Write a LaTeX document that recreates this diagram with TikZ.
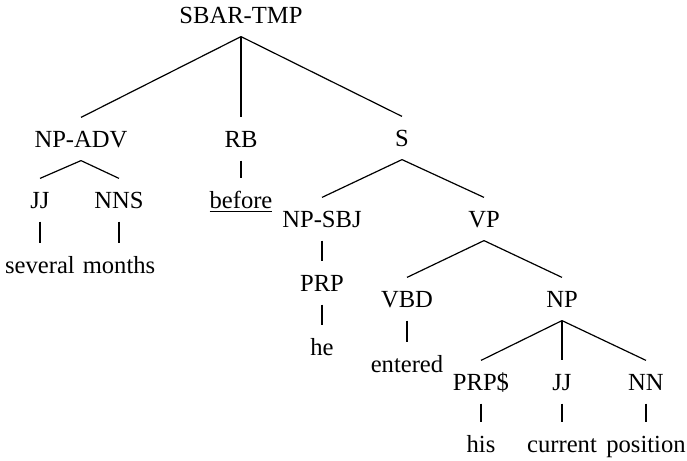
\documentclass[tikz,border=0pt]{standalone}
\usepackage{fontspec}
\setmainfont{Liberation Serif}
\tikzset{
  tag/.style={inner xsep=0pt, inner ysep=6.5pt, text height=8pt, text depth=0pt,
    anchor=base, font=\fontsize{12.3}{14}\selectfont},
}
\begin{document}
\begin{tikzpicture}[x=0.5pt, y=-0.5pt, line width=0.6pt]
    \useasboundingbox (0,0) rectangle (687,461);
    % phrase labels
    \node[tag] (top) at (241,23) {SBAR-TMP};
    \node[tag] (npadv) at (81,147) {NP-ADV};
    \node[tag] (rb) at (241,147) {RB};
    \node[tag] (s) at (402,146) {S};
    \node[tag] (jja) at (40,208) {JJ};
    \node[tag] (nns) at (119,208) {NNS};
    \node[tag] (before) at (241,208) {\underline{before}};
    \node[tag] (several) at (40,273) {several};
    \node[tag] (months) at (119,273) {months};
    \node[tag] (npsbj) at (322,227) {NP-SBJ};
    \node[tag] (vp) at (484,227) {VP};
    \node[tag] (prp) at (322,291) {PRP};
    \node[tag] (he) at (322,355) {he};
    \node[tag] (vbd) at (407,307) {VBD};
    \node[tag] (entered) at (407,372) {entered};
    \node[tag] (np) at (562,307) {NP};
    \node[tag] (prpd) at (481,390) {PRP\$};
    \node[tag] (jjb) at (562,390) {JJ};
    \node[tag] (nn) at (646,390) {NN};
    \node[tag] (his) at (481,452) {his};
    \node[tag] (current) at (562,452) {current};
    \node[tag] (position) at (646,452) {position};
    % branches
    \foreach \a/\b in {top/npadv, top/rb, top/s, npadv/jja, npadv/nns, jja/several,
        nns/months, rb/before, s/npsbj, s/vp, npsbj/prp, prp/he, vp/vbd, vp/np,
        vbd/entered, np/prpd, np/jjb, np/nn, prpd/his, jjb/current, nn/position}
        \draw (\a.south) -- (\b.north);
\end{tikzpicture}
\end{document}
